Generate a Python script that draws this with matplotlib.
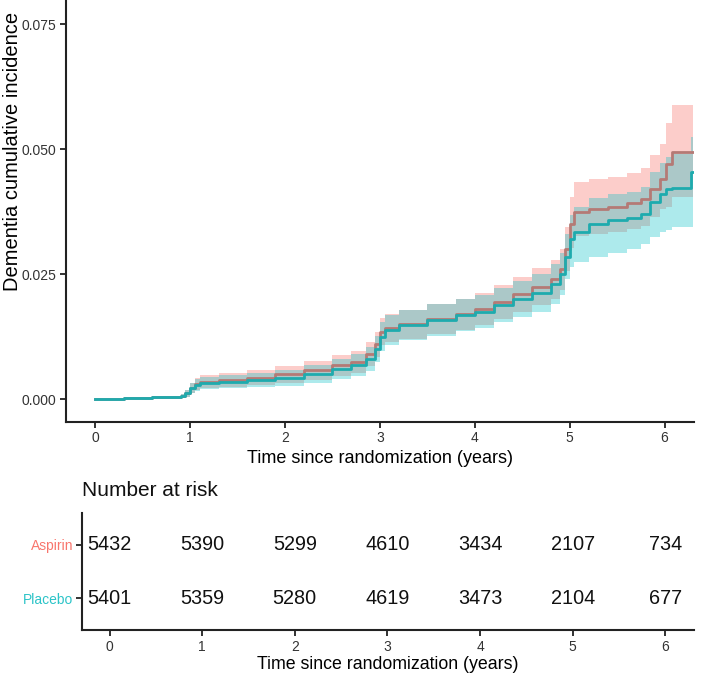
import numpy as np
import matplotlib
matplotlib.use("Agg")
import matplotlib.pyplot as plt

plt.rcParams["font.family"] = ["Liberation Sans", "DejaVu Sans"]

# step times (years) shared by both arms
times = [0, 0.3, 0.6, 0.9, 0.95, 1.0, 1.05, 1.1, 1.3, 1.6, 1.9, 2.2, 2.5, 2.7,
         2.85, 2.95, 3.0, 3.05, 3.2, 3.5, 3.8, 4.0, 4.2, 4.4, 4.6, 4.8, 4.9,
         4.95, 5.0, 5.05, 5.2, 5.4, 5.6, 5.75, 5.85, 5.95, 6.02, 6.08, 6.28, 6.3]

aspirin_est = [0, 0.0002, 0.0004, 0.0006, 0.0012, 0.0022, 0.0030, 0.0035, 0.0038,
               0.0043, 0.0050, 0.0058, 0.0068, 0.0075, 0.0090, 0.0110, 0.0135,
               0.0142, 0.0150, 0.0160, 0.0170, 0.0180, 0.0195, 0.0210, 0.0225,
               0.0240, 0.0260, 0.0300, 0.0350, 0.0375, 0.0380, 0.0385, 0.0392,
               0.0400, 0.0420, 0.0440, 0.0470, 0.0495, 0.0495, 0.0495]
aspirin_lo = [0, 0.0000, 0.0001, 0.0002, 0.0005, 0.0012, 0.0018, 0.0022, 0.0024,
              0.0028, 0.0033, 0.0039, 0.0047, 0.0053, 0.0066, 0.0085, 0.0108,
              0.0114, 0.0121, 0.0130, 0.0139, 0.0148, 0.0161, 0.0175, 0.0188,
              0.0201, 0.0219, 0.0256, 0.0303, 0.0327, 0.0331, 0.0335, 0.0340,
              0.0347, 0.0364, 0.0381, 0.0385, 0.0405, 0.0405, 0.0405]
aspirin_hi = [0, 0.0004, 0.0007, 0.0010, 0.0019, 0.0032, 0.0042, 0.0048, 0.0052,
              0.0058, 0.0067, 0.0077, 0.0089, 0.0097, 0.0114, 0.0135, 0.0162,
              0.0170, 0.0179, 0.0190, 0.0201, 0.0212, 0.0229, 0.0245, 0.0262,
              0.0279, 0.0301, 0.0344, 0.0405, 0.0435, 0.0440, 0.0445, 0.0452,
              0.0462, 0.0488, 0.0510, 0.0552, 0.0589, 0.0589, 0.0589]

placebo_est = [0, 0.0002, 0.0004, 0.0006, 0.0012, 0.0022, 0.0028, 0.0032, 0.0035,
               0.0038, 0.0042, 0.0050, 0.0060, 0.0068, 0.0080, 0.0100, 0.0125,
               0.0138, 0.0148, 0.0158, 0.0168, 0.0175, 0.0188, 0.0200, 0.0212,
               0.0230, 0.0250, 0.0285, 0.0320, 0.0335, 0.0350, 0.0358, 0.0362,
               0.0370, 0.0395, 0.0410, 0.0420, 0.0422, 0.0455, 0.0455]
placebo_lo = [0, 0.0000, 0.0001, 0.0002, 0.0005, 0.0012, 0.0017, 0.0020, 0.0022,
              0.0024, 0.0027, 0.0033, 0.0041, 0.0047, 0.0057, 0.0074, 0.0097,
              0.0109, 0.0118, 0.0127, 0.0136, 0.0142, 0.0154, 0.0165, 0.0175,
              0.0191, 0.0208, 0.0240, 0.0265, 0.0275, 0.0285, 0.0293, 0.0300,
              0.0310, 0.0325, 0.0335, 0.0339, 0.0345, 0.0345, 0.0345]
placebo_hi = [0, 0.0004, 0.0007, 0.0010, 0.0019, 0.0032, 0.0040, 0.0045, 0.0049,
              0.0053, 0.0058, 0.0068, 0.0080, 0.0090, 0.0104, 0.0126, 0.0154,
              0.0168, 0.0179, 0.0190, 0.0201, 0.0209, 0.0223, 0.0236, 0.0250,
              0.0270, 0.0293, 0.0331, 0.0368, 0.0385, 0.0402, 0.0410, 0.0415,
              0.0425, 0.0455, 0.0472, 0.0485, 0.0490, 0.0525, 0.0525]

risk_times = [0, 1, 2, 3, 4, 5, 6]
aspirin_risk = [5432, 5390, 5299, 4610, 3434, 2107, 734]
placebo_risk = [5401, 5359, 5280, 4619, 3473, 2104, 677]

RED = "#F8766D"
TEAL = "#00BFC4"
AXCOL = "#222222"

fig = plt.figure(figsize=(7.02, 6.75), dpi=100)
ax = fig.add_axes([0.0936, 0.3753, 0.895, 0.6247])

t = np.array(times)
ax.fill_between(t, aspirin_lo, aspirin_hi, step="post", color=RED, alpha=0.36, lw=0)
ax.plot(t, aspirin_est, drawstyle="steps-post", color="#b47a75", lw=2.0)
ax.fill_between(t, placebo_lo, placebo_hi, step="post", color=TEAL, alpha=0.32, lw=0)
ax.plot(t, placebo_est, drawstyle="steps-post", color="#1eabae", lw=2.0)

ax.set_xlim(-0.31, 6.31)
ax.set_ylim(-0.00448, 0.0798)
ax.set_xticks(risk_times)
ax.set_yticks([0, 0.025, 0.05, 0.075])
ax.set_yticklabels(["0.000", "0.025", "0.050", "0.075"])
ax.set_xlabel("Time since randomization (years)", fontsize=13, labelpad=3)
ax.set_ylabel("Dementia cumulative incidence", fontsize=14.5)
ax.yaxis.set_label_coords(-0.069, 0.64)

ax.spines["top"].set_visible(False)
ax.spines["right"].set_visible(False)
for s in ["left", "bottom"]:
    ax.spines[s].set_linewidth(1.5)
    ax.spines[s].set_color(AXCOL)
ax.tick_params(length=4, width=1.3, color=AXCOL, labelsize=10,
               labelcolor="#333333", pad=3)

# risk table
rx = fig.add_axes([0.1164, 0.0667, 0.8722, 0.1733])
rows = [2, 1]
for y, vals in zip(rows, [aspirin_risk, placebo_risk]):
    for xv, n in zip(risk_times, vals):
        rx.text(xv, y, str(n), ha="center", va="center", fontsize=14.3, color="#111111")
rx.set_xlim(-0.30, 6.31)
rx.set_ylim(0.4, 2.6)
rx.set_xticks(risk_times)
rx.set_yticks(rows)
rx.set_yticklabels(["Aspirin", "Placebo"])
for lab, c in zip(rx.get_yticklabels(), [RED, "#2cc4c8"]):
    lab.set_color(c)
rx.spines["top"].set_visible(False)
rx.spines["right"].set_visible(False)
for s in ["left", "bottom"]:
    rx.spines[s].set_linewidth(1.5)
    rx.spines[s].set_color(AXCOL)
rx.tick_params(axis="x", length=4, width=1.3, color=AXCOL, labelsize=10,
               labelcolor="#333333", pad=3)
rx.tick_params(axis="y", length=4, width=1.3, color=AXCOL, labelsize=10, pad=2)
rx.set_xlabel("Time since randomization (years)", fontsize=12.8, labelpad=2)
rx.set_title("Number at risk", loc="left", fontsize=15, pad=12, color="#111111")

fig.savefig("out.png", dpi=100)
